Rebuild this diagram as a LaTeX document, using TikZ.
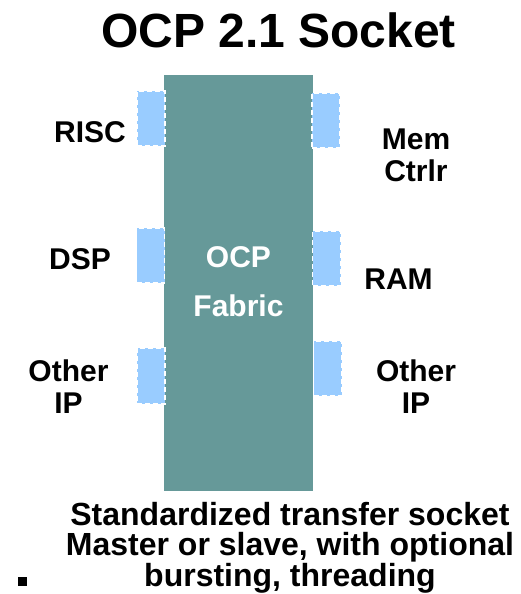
\documentclass[tikz,border=0pt]{standalone}
\usepackage{fontspec}
\setmainfont{Liberation Sans}
\definecolor{fabric}{HTML}{669999}
\definecolor{port}{HTML}{99CCFF}

\begin{document}
\begin{tikzpicture}[
    x=1pt, y=-1pt,
    label/.style={font=\bfseries\fontsize{30}{32}\selectfont, text=black, anchor=base, align=center, inner sep=0pt},
    caption/.style={font=\bfseries\fontsize{32}{29.5}\selectfont, text=black, anchor=base, align=center, inner sep=0pt},
    socket/.style={fill=port, draw=white, dash pattern=on 5pt off 3pt, line width=1.3pt, minimum width=28pt, minimum height=55pt, inner sep=0pt}
]
\useasboundingbox (0,0) rectangle (521,594);

\node[font=\bfseries\fontsize{48}{50}\selectfont, anchor=base, inner sep=0pt] (title) at (278.5,48) {OCP 2.1 Socket};

% Fabric block in the middle.
\node[fill=fabric, minimum width=149pt, minimum height=416pt, inner sep=0pt, outer sep=0pt] (fabric) at (238.5,283) {};
\node[label, text=white, font=\bfseries\fontsize{30}{49}\selectfont] (fabrictext) at (238.5,316) {OCP\\Fabric};

% Sockets on the left side.
\node[socket] (riscport) at (151,118.5) {};
\node[socket] (dspport) at (150.5,255.5) {};
\node[socket, minimum height=56pt] (ipport) at (151,376) {};

% Sockets on the right side.
\node[socket] (memport) at (326,120.5) {};
\node[socket] (ramport) at (326.5,258.5) {};
\node[socket] (ipportb) at (327.5,368.5) {};

% Last line of each label sits on the given baseline.
\node[label] (risc) at (90,142) {RISC};
\node[label] (dsp) at (80,269) {DSP};
\node[label] (ip) at (68.5,413) {Other\\IP};
\node[label] (mem) at (416,181) {Mem\\Ctrlr};
\node[label] (ram) at (398.5,289) {RAM};
\node[label] (ipb) at (416,413) {Other\\IP};

\node[caption] (note) at (290,586)
    {Standardized transfer socket\\Master or slave, with optional\\bursting, threading};
\node[fill=black, minimum size=8.5pt, inner sep=0pt] (bullet) at (22.5,581.5) {};
\end{tikzpicture}
\end{document}
